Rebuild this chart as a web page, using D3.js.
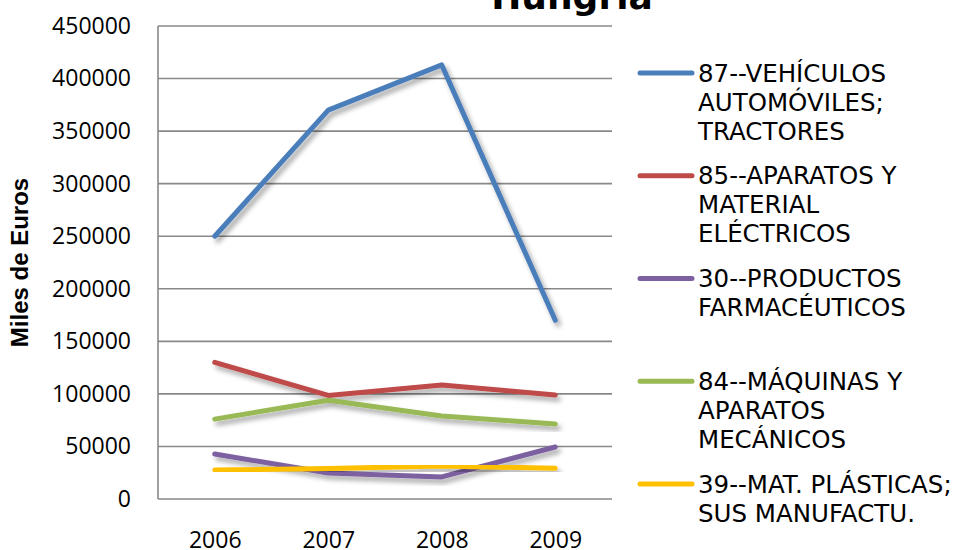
<!DOCTYPE html>
<html>
<head>
<meta charset="utf-8">
<script src="https://cdn.jsdelivr.net/npm/d3@7"></script>
<style>
  body { margin: 0; background: #fff; }
  svg { display: block; }
</style>
</head>
<body>
<svg id="chart" width="964" height="550"></svg>
<script>
// data
const years = ['2006', '2007', '2008', '2009'];
const seriesNames = [
    ['87--VEHÍCULOS', 'AUTOMÓVILES;', 'TRACTORES'],
    ['85--APARATOS Y', 'MATERIAL', 'ELÉCTRICOS'],
    ['30--PRODUCTOS', 'FARMACÉUTICOS'],
    ['84--MÁQUINAS Y', 'APARATOS', 'MECÁNICOS'],
    ['39--MAT. PLÁSTICAS;', 'SUS MANUFACTU.']
];
const vehiculos = [250000, 370000, 413000, 170000];
const electricos = [130000, 98500, 108500, 99000];
const farmaceuticos = [42800, 24700, 21000, 49500];
const maquinas = [76000, 94000, 79000, 71400];
const plasticos = [27600, 29000, 31400, 29300];
const yTicks = [0, 50000, 100000, 150000, 200000, 250000, 300000, 350000, 400000, 450000];
const colors = ['#4A7EBB', '#BE4B48', '#7D60A0', '#98B954', '#FFC000'];

const allSeries = [vehiculos, electricos, farmaceuticos, maquinas, plasticos];

const svg = d3.select('#chart');
const gray = '#898989';

const plotLeft = 158, plotRight = 612, plotTop = 26, plotBottom = 499;

const x = d3.scalePoint().domain(years).range([plotLeft, plotRight]).padding(0.5);
const y = d3.scaleLinear().domain([0, 450000]).range([plotBottom, plotTop]);

// drop shadow like the office chart
const defs = svg.append('defs');
defs.append('filter')
    .attr('id', 'shadow')
    .attr('x', '-10%').attr('y', '-10%')
    .attr('width', '130%').attr('height', '140%')
    .append('feDropShadow')
    .attr('dx', 3).attr('dy', 4)
    .attr('stdDeviation', 2.4)
    .attr('flood-color', '#000')
    .attr('flood-opacity', 0.35);

// title, cut off at the top
svg.append('text')
    .attr('x', 572).attr('y', 9)
    .attr('text-anchor', 'middle')
    .style('font-family', 'DejaVu Sans')
    .style('font-weight', 'bold')
    .style('font-size', '36px')
    .text('Hungría');

// gridlines
svg.append('g').selectAll('line')
    .data(yTicks)
    .enter()
    .append('line')
    .attr('x1', plotLeft).attr('x2', plotRight)
    .attr('y1', d => y(d)).attr('y2', d => y(d))
    .attr('stroke', gray)
    .attr('stroke-width', 1.6);

// axis line
svg.append('line')
    .attr('x1', plotLeft).attr('x2', plotLeft)
    .attr('y1', plotTop).attr('y2', plotBottom)
    .attr('stroke', gray).attr('stroke-width', 1.6);

const yAxis = svg.append('g')
    .attr('transform', `translate(${plotLeft},0)`)
    .call(d3.axisLeft(y).tickValues(yTicks).tickSize(0).tickPadding(27).tickFormat(d3.format('d')));
yAxis.select('.domain').remove();
yAxis.selectAll('text')
    .style('font-family', 'Open Sans')
    .style('font-size', '23px')
    .attr('fill', '#000');

const xAxis = svg.append('g')
    .attr('transform', `translate(0,${plotBottom})`)
    .call(d3.axisBottom(x).tickSize(0).tickPadding(33));
xAxis.select('.domain').remove();
xAxis.selectAll('text')
    .style('font-family', 'Open Sans')
    .style('font-size', '23px')
    .attr('fill', '#000');

// y axis title
svg.append('text')
    .attr('transform', `translate(28,${(plotTop + plotBottom) / 2}) rotate(-90)`)
    .attr('text-anchor', 'middle')
    .style('font-family', 'Liberation Sans')
    .style('font-weight', 'bold')
    .style('font-size', '24px')
    .text('Miles de Euros');

// series lines
const line = d3.line()
    .x((d, i) => x(years[i]))
    .y(d => y(d));

svg.append('g').selectAll('path')
    .data(allSeries)
    .enter()
    .append('path')
    .attr('d', d => line(d))
    .attr('fill', 'none')
    .attr('stroke', (d, i) => colors[i])
    .attr('stroke-width', 5)
    .attr('stroke-linecap', 'round')
    .attr('stroke-linejoin', 'round')
    .attr('filter', 'url(#shadow)');

// legend
const legend = svg.append('g');
const entry = legend.selectAll('g')
    .data(seriesNames)
    .enter()
    .append('g')
    .attr('transform', (d, i) => `translate(0,${73 + i * 102.75})`);

entry.append('line')
    .attr('x1', 640).attr('x2', 692)
    .attr('y1', 0).attr('y2', 0)
    .attr('stroke', (d, i) => colors[i])
    .attr('stroke-width', 5)
    .attr('stroke-linecap', 'round');

entry.append('text')
    .style('font-family', 'DejaVu Sans')
    .style('font-size', '24.5px')
    .attr('fill', '#000')
    .selectAll('tspan')
    .data(d => d)
    .enter()
    .append('tspan')
    .attr('x', 698)
    .attr('y', (d, k) => 8.5 + k * 29)
    .text(d => d);
</script>
</body>
</html>
